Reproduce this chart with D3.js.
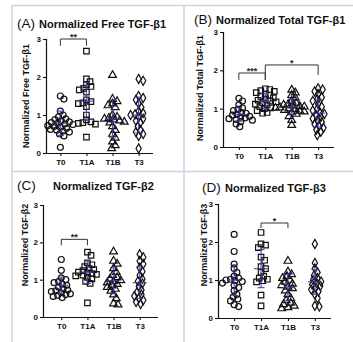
<!DOCTYPE html>
<html>
<head>
<meta charset="utf-8">
<script src="https://cdn.jsdelivr.net/npm/d3@7"></script>
<style>
  body { margin: 0; background: #fff; }
  svg { display: block; font-family: "Liberation Sans", Arial, sans-serif; }
</style>
</head>
<body>
<svg id="fig" width="353" height="342"></svg>
<script>
const categories = ['T0', 'T1A', 'T1B', 'T3'];
const yTicks = [0, 1, 2, 3];

// (A) Normalized Free TGF-b1
const freeB1 = [
  [1.5, 1.42, 1.1, 1.0, 0.95, 0.9, 0.88, 0.85, 0.82, 0.8, 0.78, 0.76, 0.75, 0.72, 0.7, 0.68, 0.65, 0.62, 0.6, 0.58, 0.55, 0.5, 0.45, 0.15],
  [2.68, 1.95, 1.88, 1.8, 1.75, 1.7, 1.66, 1.6, 1.4, 1.35, 1.32, 1.3, 1.22, 1.0, 0.87, 0.82, 0.8, 0.78, 0.76, 0.42],
  [2.05, 1.42, 1.36, 1.3, 1.25, 1.2, 1.0, 0.95, 0.92, 0.9, 0.88, 0.85, 0.82, 0.8, 0.7, 0.6, 0.5, 0.4, 0.3, 0.2, 0.12],
  [1.95, 1.9, 1.5, 1.45, 1.4, 1.3, 1.2, 1.1, 1.05, 1.02, 1.0, 0.95, 0.9, 0.85, 0.8, 0.7, 0.6, 0.55, 0.5, 0.45, 0.12]
];
const freeB1Mean = [0.78, 1.36, 0.9, 1.0];
const freeB1Sd = [0.32, 0.5, 0.5, 0.47];

// (B) Normalized Total TGF-b1
const totalB1 = [
  [1.27, 1.2, 1.1, 1.02, 0.98, 0.95, 0.9, 0.88, 0.85, 0.83, 0.8, 0.78, 0.76, 0.74, 0.72, 0.7, 0.66, 0.6, 0.53],
  [1.52, 1.5, 1.47, 1.45, 1.42, 1.38, 1.35, 1.32, 1.28, 1.25, 1.22, 1.2, 1.18, 1.15, 1.12, 1.1, 1.05, 1.02, 1.0, 0.95, 0.9, 0.88],
  [1.49, 1.42, 1.35, 1.28, 1.2, 1.15, 1.12, 1.1, 1.08, 1.06, 1.05, 1.03, 1.02, 1.0, 0.98, 0.96, 0.94, 0.92, 0.9, 0.86, 0.8, 0.7, 0.57],
  [1.53, 1.5, 1.45, 1.38, 1.3, 1.25, 1.2, 1.12, 1.05, 1.0, 0.95, 0.9, 0.86, 0.82, 0.78, 0.74, 0.7, 0.65, 0.6, 0.55, 0.5, 0.45, 0.4, 0.31]
];
const totalB1Mean = [0.85, 1.2, 1.05, 0.88];
const totalB1Sd = [0.18, 0.2, 0.2, 0.36];

// (C) Normalized TGF-b2
const tgfB2 = [
  [1.54, 1.25, 1.05, 1.0, 0.95, 0.92, 0.88, 0.85, 0.8, 0.76, 0.72, 0.7, 0.68, 0.65, 0.62, 0.6, 0.58, 0.55, 0.52],
  [1.74, 1.65, 1.45, 1.4, 1.35, 1.3, 1.27, 1.24, 1.2, 1.18, 1.16, 1.14, 1.12, 1.1, 1.06, 1.02, 0.95, 0.9, 0.38],
  [1.75, 1.5, 1.42, 1.3, 1.2, 1.12, 1.06, 1.02, 0.98, 0.95, 0.92, 0.88, 0.84, 0.8, 0.75, 0.7, 0.6, 0.5, 0.36, 0.33],
  [1.68, 1.6, 1.5, 1.42, 1.32, 1.22, 1.12, 1.02, 0.96, 0.9, 0.82, 0.72, 0.66, 0.6, 0.56, 0.5, 0.45, 0.4, 0.35]
];
const tgfB2Mean = [0.85, 1.2, 0.97, 0.92];
const tgfB2Sd = [0.22, 0.3, 0.35, 0.42];

// (D) Normalized TGF-b3
const tgfB3 = [
  [2.2, 1.75, 1.42, 1.3, 1.2, 1.1, 1.05, 1.02, 1.0, 0.98, 0.96, 0.92, 0.86, 0.8, 0.72, 0.62, 0.55, 0.5, 0.45, 0.35, 0.3],
  [2.25, 1.95, 1.92, 1.85, 1.6, 1.52, 1.35, 1.3, 1.2, 1.1, 1.05, 1.02, 0.98, 0.95, 0.6, 0.32],
  [1.5, 1.22, 1.15, 1.1, 1.05, 1.0, 0.95, 0.9, 0.86, 0.82, 0.78, 0.72, 0.62, 0.52, 0.46, 0.4, 0.36, 0.32, 0.28, 0.25],
  [1.95, 1.45, 1.3, 1.2, 1.12, 1.05, 1.0, 0.96, 0.92, 0.88, 0.84, 0.8, 0.75, 0.7, 0.62, 0.52, 0.32, 0.3]
];
const tgfB3Mean = [1.0, 1.3, 0.8, 0.95];
const tgfB3Sd = [0.4, 0.5, 0.35, 0.33];

// significance brackets: [from, to, top, left end, right end, label]
const sigA = [['T0', 'T1A', 3.0, 2.82, 2.82, '**']];
const sigB = [['T0', 'T1A', 1.93, 1.75, 1.75, '***'], ['T1A', 'T3', 2.14, 1.75, 1.88, '*']];
const sigC = [['T0', 'T1A', 2.08, 1.92, 1.92, '**']];
const sigD = [['T1A', 'T1B', 2.5, 2.37, 2.37, '*']];

const panels = [
  { tag: '(A)', title: 'Normalized Free TGF-β1', ylabel: 'Normalized Free TGF-β1', data: freeB1, mean: freeB1Mean, sd: freeB1Sd, sig: sigA,
    tx: 17, tx2: 39, ty: 28, x0: 46, x1: 153, y0: 153, y3: 39, pad: 0.55, lx: 29, ly: 96, cy: 167 },
  { tag: '(B)', title: 'Normalized Total TGF-β1', ylabel: 'Normalized Total TGF-β1', data: totalB1, mean: totalB1Mean, sd: totalB1Sd, sig: sigB,
    tx: 194, tx2: 216, ty: 24, x0: 223, x1: 334, y0: 147, y3: 32, pad: 0.6, lx: 203, ly: 88, cy: 161 },
  { tag: '(C)', title: 'Normalized TGF-β2', ylabel: 'Normalized TGF-β2', data: tgfB2, mean: tgfB2Mean, sd: tgfB2Sd, sig: sigC,
    tx: 17, tx2: 53, ty: 190, x0: 43, x1: 158, y0: 317, y3: 205, pad: 0.7, lx: 28, ly: 245, cy: 332 },
  { tag: '(D)', title: 'Normalized TGF-β3', ylabel: 'Normalized TGF-β3', data: tgfB3, mean: tgfB3Mean, sd: tgfB3Sd, sig: sigD,
    tx: 202, tx2: 225, ty: 192, x0: 218, x1: 331, y0: 318, y3: 204, pad: 0.6, lx: 207, ly: 245, cy: 332 }
];

const shapes = [d3.symbolCircle, d3.symbolSquare, d3.symbolTriangle, d3.symbolDiamond];
const shapeSize = [28, 30, 26, 24];
const blue = '#3b3bb0';

const svg = d3.select('#fig');

// panel frame lines
const frame = '#c9d3de';
svg.append('line').attr('x1', 12).attr('x2', 353).attr('y1', 5.5).attr('y2', 5.5).attr('stroke', frame).attr('stroke-width', 1.5);
svg.append('line').attr('x1', 12).attr('x2', 12).attr('y1', 5).attr('y2', 342).attr('stroke', frame).attr('stroke-width', 1.5);
svg.append('line').attr('x1', 184).attr('x2', 184).attr('y1', 5).attr('y2', 342).attr('stroke', frame).attr('stroke-width', 1.5);
svg.append('line').attr('x1', 12).attr('x2', 353).attr('y1', 171.5).attr('y2', 171.5).attr('stroke', frame).attr('stroke-width', 1.5);

// simple beeswarm: push a point sideways until it clears the ones already placed
function swarm(vals, y, cx, minDist) {
  const placed = [];
  vals.forEach(v => {
    const py = y(v);
    let px = cx;
    for (let k = 0; k < 60; k++) {
      const off = (k % 2 ? 1 : -1) * Math.ceil(k / 2) * 0.9;
      if (placed.every(p => (p.x - (cx + off)) ** 2 + (p.y - py) ** 2 >= minDist * minDist)) { px = cx + off; break; }
    }
    placed.push({ x: px, y: py });
  });
  return placed;
}

panels.forEach(p => {
  const g = svg.append('g');

  const x = d3.scalePoint().domain(categories).range([p.x0, p.x1]).padding(p.pad);
  const y = d3.scaleLinear().domain([0, 3]).range([p.y0, p.y3]);

  // title
  g.append('text').attr('x', p.tx).attr('y', p.ty).attr('font-size', 13.5).attr('fill', '#111').text(p.tag);
  g.append('text').attr('x', p.tx2).attr('y', p.ty).attr('font-size', 11).attr('font-weight', 'bold').attr('fill', '#111').text(p.title);

  // y label
  g.append('text')
    .attr('transform', 'translate(' + p.lx + ',' + p.ly + ') rotate(-90)')
    .attr('text-anchor', 'middle').attr('font-size', 9).attr('font-weight', 'bold').attr('fill', '#111')
    .text(p.ylabel);

  // axes
  const yAxis = g.append('g').attr('transform', 'translate(' + p.x0 + ',0)')
    .call(d3.axisLeft(y).tickValues(yTicks).tickFormat(d3.format('d')).tickSize(3).tickPadding(2));
  const xAxis = g.append('g').attr('transform', 'translate(0,' + p.y0 + ')')
    .call(d3.axisBottom(x).tickSize(3).tickPadding(3));
  [yAxis, xAxis].forEach(a => {
    a.select('.domain').attr('stroke', '#111').attr('stroke-width', 1.2);
    a.selectAll('.tick line').attr('stroke', '#111').attr('stroke-width', 1.1);
    a.selectAll('.tick text').attr('font-size', 8).attr('font-weight', 'bold').attr('fill', '#111')
      .attr('font-family', '"Liberation Sans", Arial, sans-serif');
  });
  xAxis.select('.domain').attr('d', 'M' + p.x0 + ',0.5H' + p.x1);
  yAxis.select('.domain').attr('d', 'M0.5,' + y(3) + 'V' + p.y0);

  // points
  p.data.forEach((vals, i) => {
    const pts = swarm(vals, y, x(categories[i]), 4.4);
    g.append('g').selectAll('path').data(pts).enter().append('path')
      .attr('d', d3.symbol().type(shapes[i]).size(shapeSize[i]))
      .attr('transform', d => 'translate(' + d.x + ',' + d.y + ')')
      .attr('fill', 'none').attr('stroke', '#111').attr('stroke-width', 1.2);

    // mean and SD
    const cx = x(categories[i]);
    const m = p.mean[i], s = p.sd[i];
    const eb = g.append('g').attr('stroke', blue).attr('stroke-width', 1.2).attr('opacity', 0.85);
    eb.append('line').attr('x1', cx - 7).attr('x2', cx + 7).attr('y1', y(m)).attr('y2', y(m));
    eb.append('line').attr('x1', cx).attr('x2', cx).attr('y1', y(m + s)).attr('y2', y(m - s));
    eb.append('line').attr('x1', cx - 3.5).attr('x2', cx + 3.5).attr('y1', y(m + s)).attr('y2', y(m + s));
    eb.append('line').attr('x1', cx - 3.5).attr('x2', cx + 3.5).attr('y1', y(m - s)).attr('y2', y(m - s));
  });

  // significance brackets
  p.sig.forEach(b => {
    const xa = x(b[0]), xb = x(b[1]);
    g.append('path')
      .attr('d', 'M' + xa + ',' + y(b[3]) + 'V' + y(b[2]) + 'H' + xb + 'V' + y(b[4]))
      .attr('fill', 'none').attr('stroke', '#333').attr('stroke-width', 1);
    g.append('text').attr('x', (xa + xb) / 2).attr('y', y(b[2]) + 1)
      .attr('text-anchor', 'middle').attr('font-size', 9).attr('font-weight', 'bold').attr('fill', '#222')
      .text(b[5]);
  });
});
</script>
</body>
</html>
